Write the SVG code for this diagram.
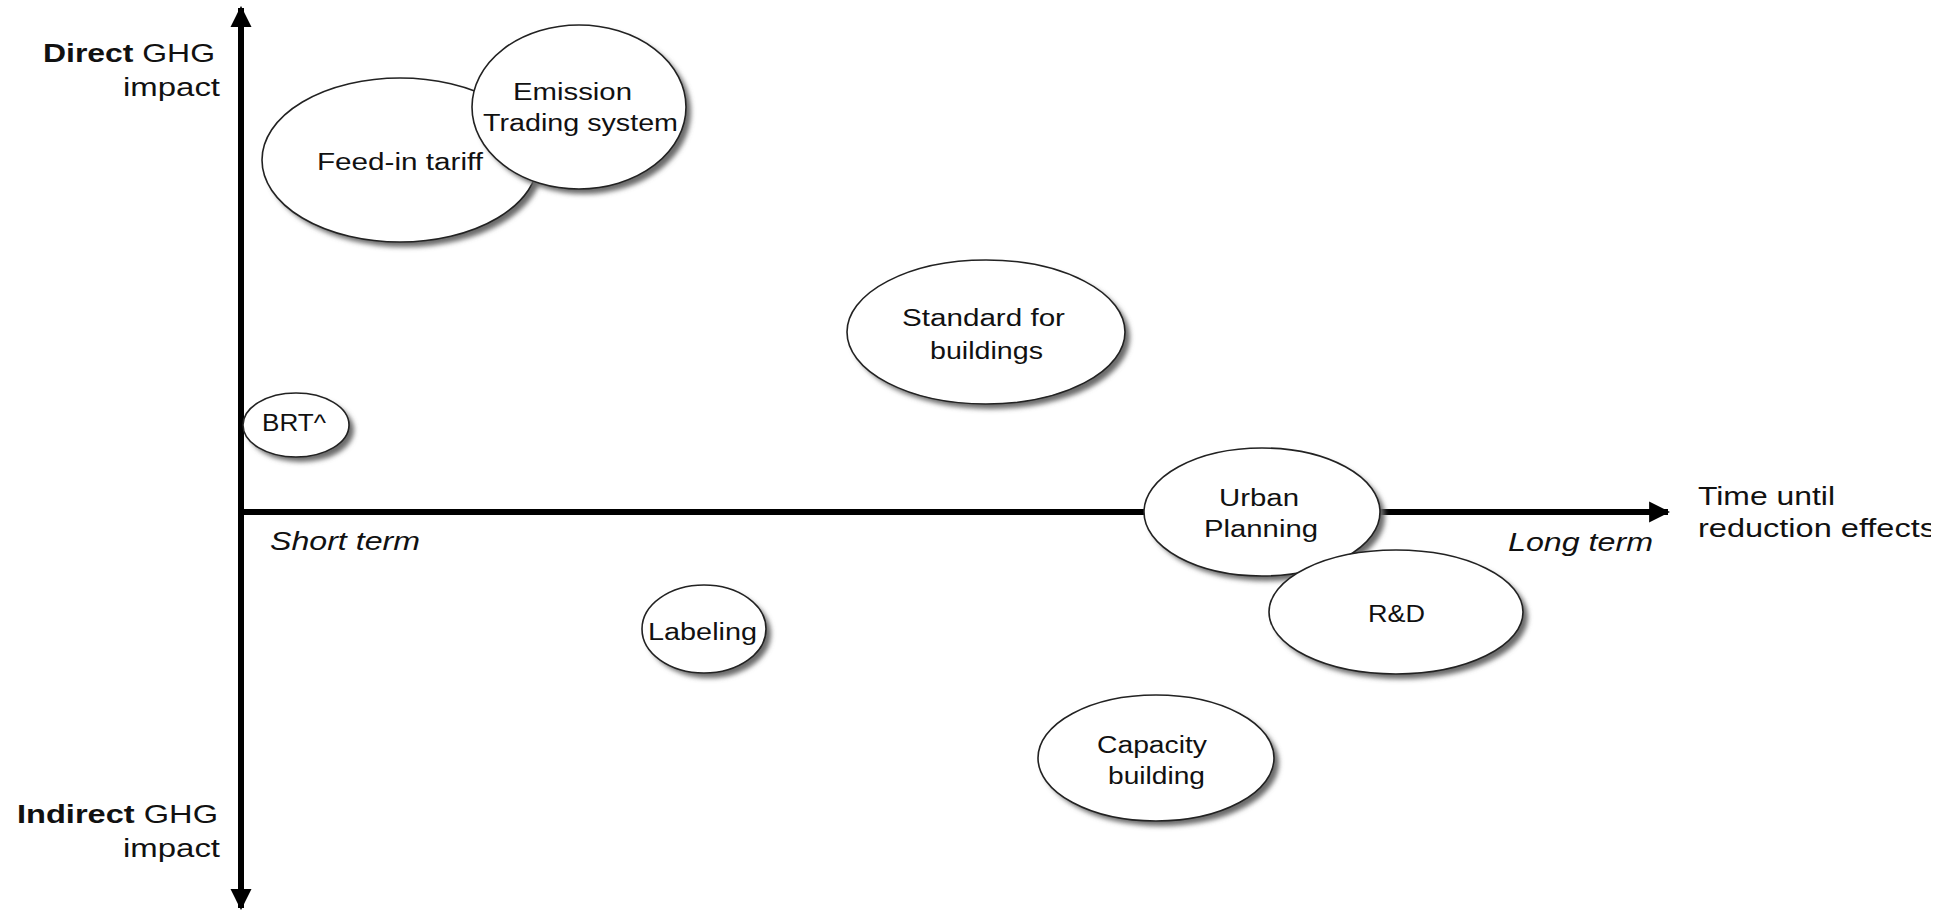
<svg xmlns="http://www.w3.org/2000/svg" width="1955" height="910" viewBox="0 0 1955 910">
<style>
.node{fill:#fff;stroke:#222;stroke-width:1.6}
.shadow{fill:#6a6a6a;filter:url(#blur)}
.t{font-family:"Liberation Sans",Arial,sans-serif;font-size:23px;fill:#111}
.a{font-family:"Liberation Sans",Arial,sans-serif;font-size:26px;fill:#111}
.axis{stroke:#000;stroke-width:6;fill:none}
</style>
<defs>
<filter id="blur" x="-20%" y="-20%" width="140%" height="140%"><feGaussianBlur stdDeviation="2.5"/></filter>
<marker id="ah" viewBox="0 0 10 10" refX="9" refY="5" markerUnits="userSpaceOnUse" markerWidth="21" markerHeight="23" orient="auto"><path d="M0,0 L10,5 L0,10 z" fill="#000"/></marker>
<clipPath id="clipR"><rect x="0" y="0" width="1931" height="910"/></clipPath>
</defs>
<rect width="1955" height="910" fill="#fff"/>
<g id="connectors">
<line class="axis" x1="241" y1="900" x2="241" y2="8" marker-end="url(#ah)"/>
<line class="axis" x1="241" y1="512" x2="241" y2="908" marker-end="url(#ah)"/>
<line class="axis" x1="238" y1="512" x2="1668" y2="512" marker-end="url(#ah)"/>
</g>
<g id="axis-labels">
<text class="a" x="43" y="62" textLength="172" lengthAdjust="spacingAndGlyphs"><tspan font-weight="bold">Direct</tspan> GHG</text>
<text class="a" x="123" y="96" textLength="97" lengthAdjust="spacingAndGlyphs">impact</text>
<text class="a" x="17" y="823" textLength="201" lengthAdjust="spacingAndGlyphs"><tspan font-weight="bold">Indirect</tspan> GHG</text>
<text class="a" x="123" y="857" textLength="97" lengthAdjust="spacingAndGlyphs">impact</text>
<text class="a" x="270" y="550" font-style="italic" textLength="150" lengthAdjust="spacingAndGlyphs">Short term</text>
<text class="a" x="1508" y="551" font-style="italic" textLength="145" lengthAdjust="spacingAndGlyphs">Long term</text>
<text class="a" x="1698" y="505" textLength="137" lengthAdjust="spacingAndGlyphs">Time until</text>
<text class="a" x="1698" y="537" textLength="238" lengthAdjust="spacingAndGlyphs" clip-path="url(#clipR)">reduction effects</text>
</g>
<g id="feed-in-tariff">
<ellipse class="shadow" cx="405" cy="165" rx="138" ry="82"/>
<ellipse class="node" cx="400" cy="160" rx="138" ry="82"/>
<text class="t" x="317" y="170" textLength="166" lengthAdjust="spacingAndGlyphs">Feed-in tariff</text>
</g>
<g id="emission-trading">
<ellipse class="shadow" cx="584" cy="112" rx="107" ry="82"/>
<ellipse class="node" cx="579" cy="107" rx="107" ry="82"/>
<text class="t" x="513" y="100" textLength="119" lengthAdjust="spacingAndGlyphs">Emission</text>
<text class="t" x="483" y="131" textLength="195" lengthAdjust="spacingAndGlyphs">Trading system</text>
</g>
<g id="standard-buildings">
<ellipse class="shadow" cx="991" cy="337" rx="139" ry="72"/>
<ellipse class="node" cx="986" cy="332" rx="139" ry="72"/>
<text class="t" x="902" y="326" textLength="163" lengthAdjust="spacingAndGlyphs">Standard for</text>
<text class="t" x="930" y="359" textLength="113" lengthAdjust="spacingAndGlyphs">buildings</text>
</g>
<g id="brt">
<ellipse class="shadow" cx="301" cy="430" rx="53" ry="32"/>
<ellipse class="node" cx="296" cy="425" rx="53" ry="32"/>
<text class="t" x="262" y="431" textLength="64" lengthAdjust="spacingAndGlyphs">BRT^</text>
</g>
<g id="urban-planning">
<ellipse class="shadow" cx="1267" cy="517" rx="118" ry="64"/>
<ellipse class="node" cx="1262" cy="512" rx="118" ry="64"/>
<text class="t" x="1219" y="506" textLength="80" lengthAdjust="spacingAndGlyphs">Urban</text>
<text class="t" x="1204" y="537" textLength="114" lengthAdjust="spacingAndGlyphs">Planning</text>
</g>
<g id="rd">
<ellipse class="shadow" cx="1401" cy="617" rx="127" ry="62"/>
<ellipse class="node" cx="1396" cy="612" rx="127" ry="62"/>
<text class="t" x="1368" y="622" textLength="57" lengthAdjust="spacingAndGlyphs">R&amp;D</text>
</g>
<g id="labeling">
<ellipse class="shadow" cx="709" cy="634" rx="62" ry="44"/>
<ellipse class="node" cx="704" cy="629" rx="62" ry="44"/>
<text class="t" x="648" y="640" textLength="109" lengthAdjust="spacingAndGlyphs">Labeling</text>
</g>
<g id="capacity-building">
<ellipse class="shadow" cx="1161" cy="763" rx="118" ry="63"/>
<ellipse class="node" cx="1156" cy="758" rx="118" ry="63"/>
<text class="t" x="1097" y="753" textLength="110" lengthAdjust="spacingAndGlyphs">Capacity</text>
<text class="t" x="1108" y="784" textLength="97" lengthAdjust="spacingAndGlyphs">building</text>
</g>
</svg>
